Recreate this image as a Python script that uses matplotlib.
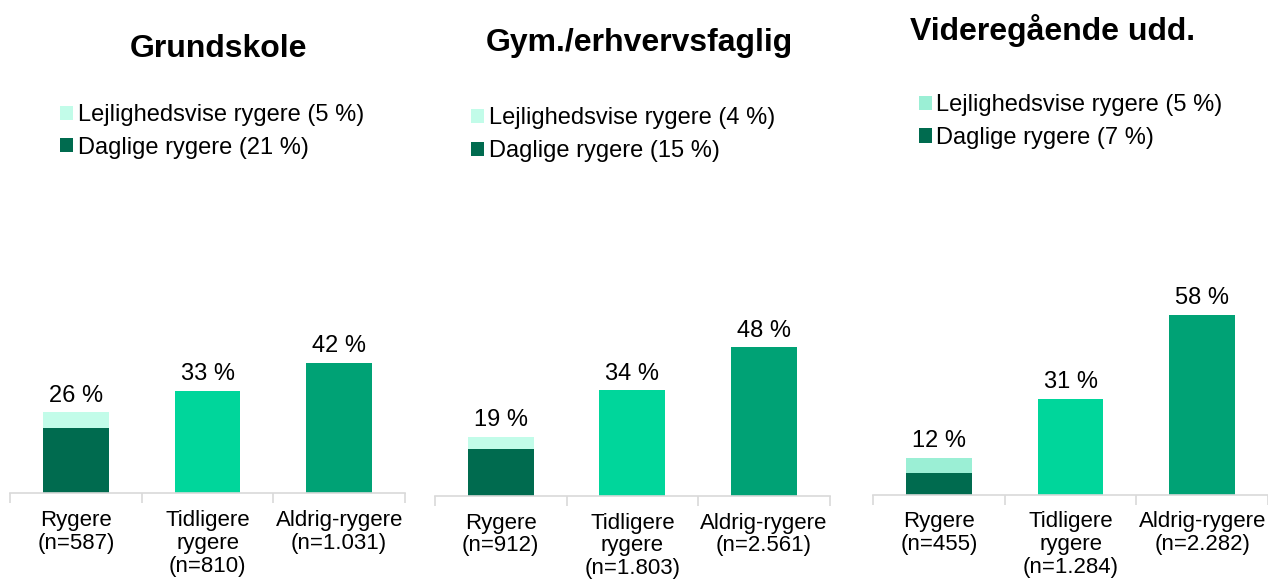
import matplotlib.pyplot as plt

plt.rcParams["font.family"] = ["Liberation Sans", "DejaVu Sans"]

groups = ["Grundskole", "Gym./erhvervsfaglig", "Videregående udd."]
categories = ["Rygere", "Tidligere\nrygere", "Aldrig-rygere"]
n_labels = [
    ["587", "810", "1.031"],
    ["912", "1.803", "2.561"],
    ["455", "1.284", "2.282"],
]
daily = [21, 15, 7]
occasional = [5, 4, 5]
smokers_total = [26, 19, 12]
former = [33, 34, 31]
never = [42, 48, 58]

dark = "#006B4F"
light = ["#C2FCE9", "#C2FCE9", "#9BEFD5"]
former_col = "#00D69B"
never_col = "#00A275"

fig = plt.figure(figsize=(12.68, 5.8), dpi=100)

# axes boxes in figure fraction (left, bottom, width)
boxes = [(0.0079, 0.150, 0.3115), (0.343, 0.145, 0.3115), (0.6885, 0.147, 0.3115)]
title_xy = [(0.172, 0.916), (0.504, 0.925), (0.830, 0.948)]
legend_xy = [(0.040, 0.837), (0.364, 0.831), (0.717, 0.854)]

for i, g in enumerate(groups):
    l, b, w = boxes[i]
    ax = fig.add_axes([l, b, w, 0.3207])
    x = [0, 1, 2]
    bd = ax.bar(x[0], daily[i], width=0.5, color=dark, label=f"Daglige rygere ({daily[i]} %)")
    bo = ax.bar(x[0], occasional[i], bottom=daily[i], width=0.5, color=light[i],
                label=f"Lejlighedsvise rygere ({occasional[i]} %)")
    ax.bar(x[1], former[i], width=0.5, color=former_col)
    ax.bar(x[2], never[i], width=0.5, color=never_col)

    tops = [smokers_total[i], former[i], never[i]]
    for xi, v in zip(x, tops):
        ax.annotate(f"{v} %", (xi, v), xytext=(0, 4), textcoords="offset points",
                    ha="center", va="bottom", fontsize=17)

    ax.set_xlim(-0.5, 2.5)
    ax.set_ylim(0, 60)
    for s in ["top", "right", "left"]:
        ax.spines[s].set_visible(False)
    ax.spines["bottom"].set_color("#D9D9D9")
    ax.spines["bottom"].set_linewidth(1.2)
    ax.set_yticks([])
    ax.set_xticks([-0.5, 0.5, 1.5, 2.5])
    ax.set_xticklabels([])
    ax.tick_params(axis="x", which="major", length=7, color="#D9D9D9", width=1.2)
    ax.set_xticks(x, minor=True)
    ax.set_xticklabels([f"{c}\n(n={n})" for c, n in zip(categories, n_labels[i])],
                       minor=True, fontsize=16, linespacing=1.12)
    ax.tick_params(axis="x", which="minor", length=0, pad=12)

    fig.text(title_xy[i][0], title_xy[i][1], g, ha="center", va="center",
             fontsize=23, fontweight="bold")
    fig.legend(handles=[bo, bd], loc="upper left", bbox_to_anchor=legend_xy[i],
               frameon=False, fontsize=17, handlelength=0.55, handleheight=0.55,
               handletextpad=0.2, labelspacing=0.45, borderaxespad=0)

fig.savefig("out.png", dpi=100)
